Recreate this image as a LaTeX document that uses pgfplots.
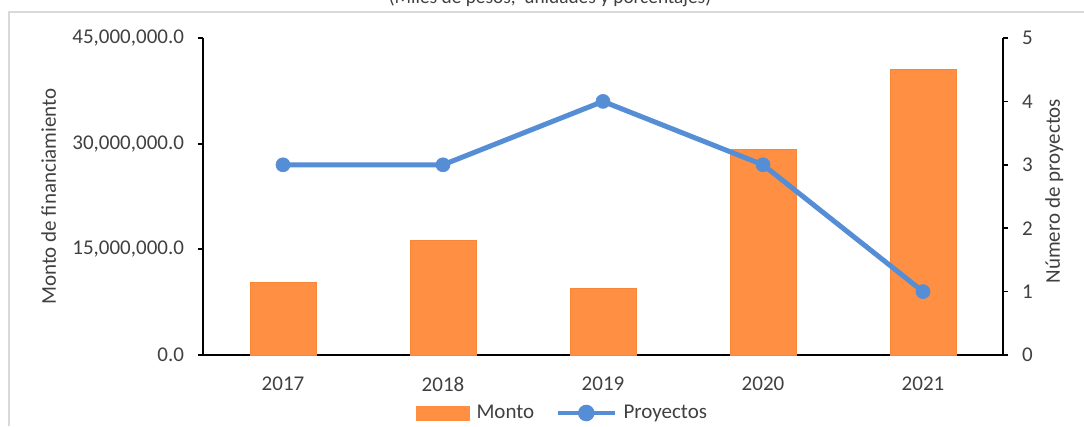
\documentclass[border=0pt]{standalone}
\usepackage{pgfplots}
\pgfplotsset{compat=1.18}
\usepackage{fontspec}
\setmainfont{Carlito}
\definecolor{barorange}{RGB}{255,143,66}
\definecolor{barborder}{RGB}{248,134,56}
\definecolor{lineblue}{RGB}{85,142,213}
\definecolor{txt}{RGB}{64,64,64}
\definecolor{frame}{RGB}{217,217,217}
\begin{document}
\begin{tikzpicture}[x=1pt,y=1pt,font=\fontsize{15.75}{18}\selectfont]
\path[use as bounding box] (0,0) rectangle (813,319.5);
\clip (0,0) rectangle (813,319.5);
\draw[frame, line width=1.5pt] (6.75,0) -- (6.75,310.5) -- (813,310.5);
\node[anchor=base, text=txt, font=\fontsize{14.5}{16}\selectfont] at (412.5,316.5) {(Miles de pesos,\ \ unidades y porcentajes)};
\begin{axis}[
  at={(152.25pt,53.25pt)}, anchor=south west,
  width=600pt, height=237.75pt, scale only axis,
  xmin=-0.5, xmax=4.5,
  ymin=0, ymax=45000000,
  separate axis lines,
  axis x line*=bottom, axis y line*=left,
  axis line style={-, black, line width=1.3pt},
  xtick={0,1,2,3,4},
  xticklabels={2017,2018,2019,2020,2021},
  x tick style={draw=none},
  xticklabel style={yshift=-9pt},
  ytick={0,15000000,30000000,45000000},
  scaled y ticks=false,
  y tick style={black, line width=1.3pt},
  tick align=outside, major tick length=3.75pt,
  yticklabel style={xshift=-7pt, /pgf/number format/.cd, fixed, fixed zerofill, precision=1, 1000 sep={,}, assume math mode=true},
  ticklabel style={text=txt},
  ylabel={Monto de financiamiento},
  y label style={at={(axis description cs:-0.193,0.5)}, anchor=center, rotate=0, text=txt},
  clip=false,
]
\addplot[ybar, bar width=49.5pt, fill=barorange, draw=barborder, line width=0.6pt]
  coordinates {(0,10360000) (1,16300000) (2,9470000) (3,29200000) (4,40500000)};
\end{axis}
\begin{axis}[
  at={(152.25pt,53.25pt)}, anchor=south west,
  width=600pt, height=237.75pt, scale only axis,
  xmin=-0.5, xmax=4.5,
  ymin=0, ymax=5,
  axis x line=none, axis y line*=right,
  axis line style={-, black, line width=1.3pt},
  ytick={0,1,2,3,4,5},
  y tick style={black, line width=1.3pt},
  tick align=outside, major tick length=3.75pt,
  yticklabel style={xshift=7pt, /pgf/number format/assume math mode=true, text=txt},
  ylabel={Número de proyectos},
  y label style={at={(axis description cs:1.064,0.517)}, anchor=center, rotate=0, text=txt},
  legend columns=2,
  legend style={draw=none, fill=none, at={(0.45,-0.183)}, anchor=center,
    /tikz/every odd column/.append style={column sep=3pt},
    /tikz/every even column/.append style={column sep=14pt}, text=txt},
  clip=false,
]
\addlegendimage{legend image code/.code={\fill[barorange] (0pt,-5.25pt) rectangle (39.75pt,5.25pt);}}
\addlegendentry{Monto}
\addplot[lineblue, line width=3.75pt, mark=*, mark size=5.3pt,
  mark options={fill=lineblue, draw=lineblue, line width=0.4pt},
  legend image code/.code={\draw[lineblue, line width=3.2pt] (0pt,0pt) -- (42.75pt,0pt); \fill[lineblue] (21.4pt,0pt) circle (4.3pt);}]
  coordinates {(0,3) (1,3) (2,4) (3,3) (4,1)};
\addlegendentry{Proyectos}
\end{axis}
\end{tikzpicture}
\end{document}
